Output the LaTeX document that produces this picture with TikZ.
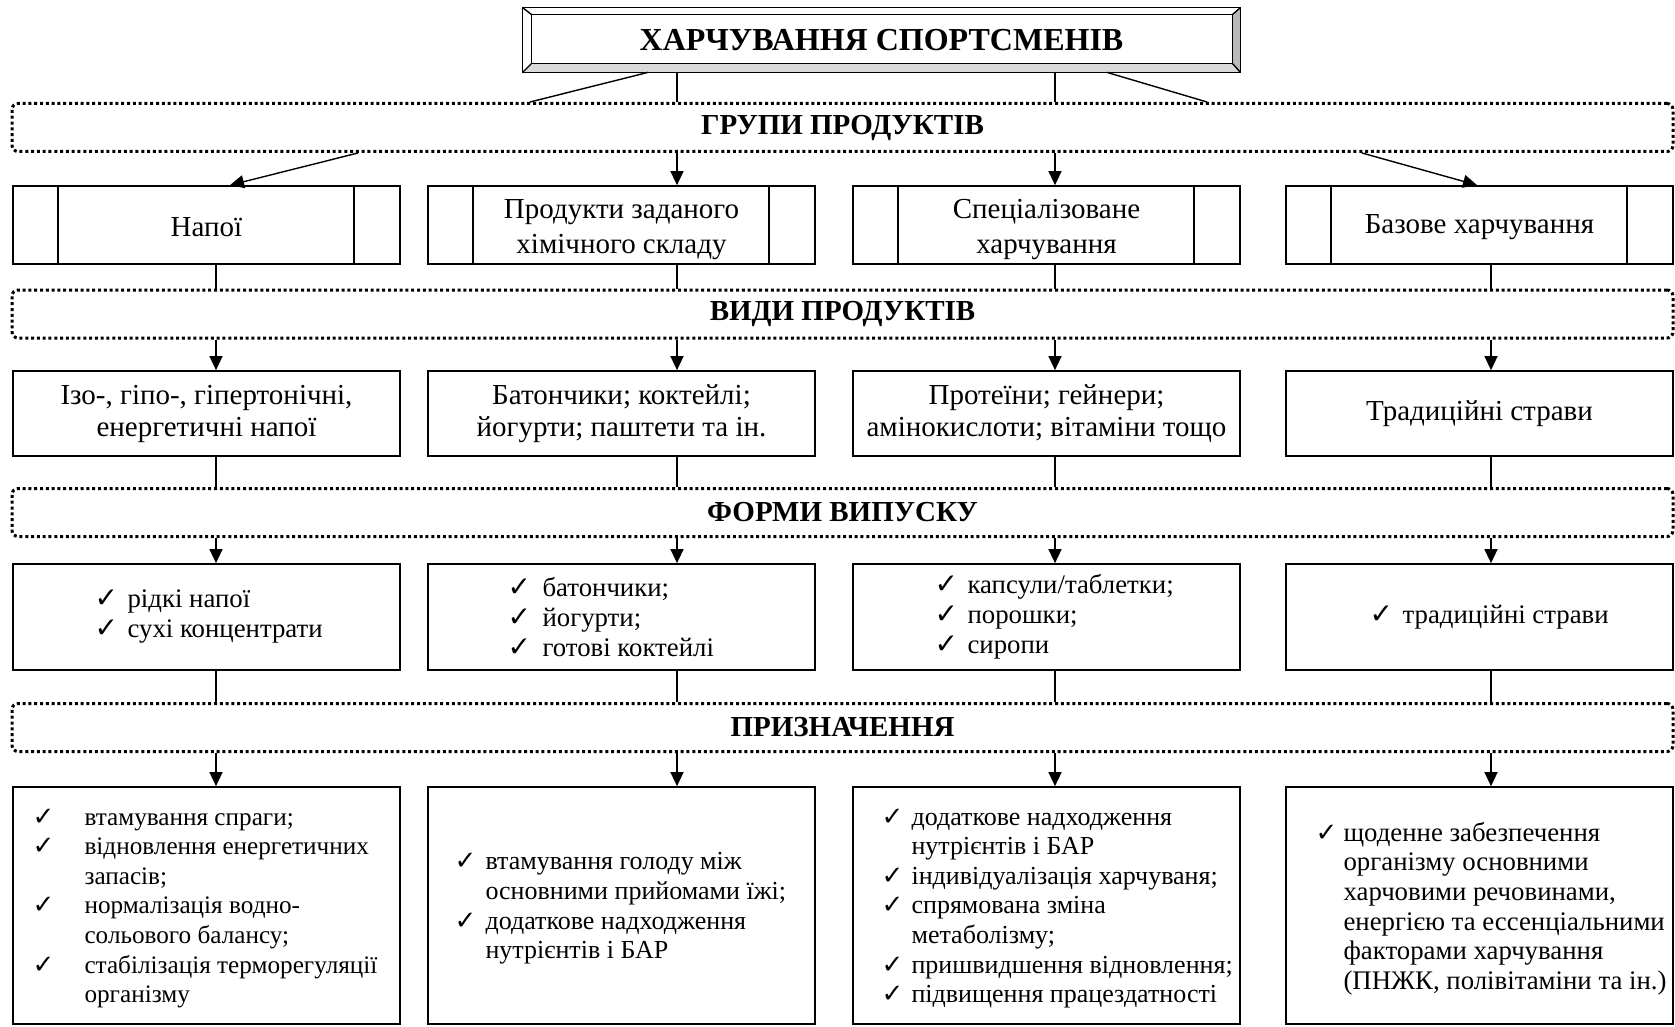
\documentclass[tikz,border=0pt]{standalone}
\usepackage{fontspec}
\setmainfont{Liberation Serif}
\newfontfamily\symf{DejaVu Sans}
\usetikzlibrary{arrows.meta}
\newcommand{\ckA}[1]{\makebox[#1][l]{\symf\fontsize{14}{14}\selectfont ✓}}
\newcommand{\ckB}[1]{\makebox[#1][l]{\symf\fontsize{13}{13}\selectfont ✓}}
\newcommand{\ind}[1]{\hspace*{#1}}
\begin{document}
\begin{tikzpicture}[x=0.5pt,y=-0.5pt,
  box/.style={draw, line width=0.85pt, minimum width=193.5pt, inner sep=0pt, align=center},
  fA/.style={font=\fontsize{14.5}{17.5}\selectfont, align=center},
  fA2/.style={font=\fontsize{14.5}{16}\selectfont, align=center},
  fB/.style={font=\fontsize{13.4}{15}\selectfont, align=left, inner sep=0pt, anchor=west},
  fC/.style={font=\fontsize{13}{14.8}\selectfont, align=left, inner sep=0pt, anchor=west},
  grp/.style={draw, line width=1.5pt, dash pattern=on 1.5pt off 1.4pt, rounded corners=3pt,
    minimum width=830.5pt, minimum height=24pt, inner sep=0pt, font=\fontsize{14.5}{17}\selectfont\bfseries},
  con/.style={line width=0.7pt},
  arr/.style={con, -{Triangle[length=7pt,width=6.5pt]}},
  bar/.style={line width=0.85pt}
]
\useasboundingbox (0,0) rectangle (1675,1027);

% title
\node[minimum width=358.5pt, minimum height=32pt, inner sep=0pt,
  font=\fontsize{16}{19}\selectfont\bfseries] (title) at (881.5,40) {ХАРЧУВАННЯ СПОРТСМЕНІВ};
\coordinate (inw) at ([shift={(9,7)}]title.north west);
\coordinate (ine) at ([shift={(-8,7)}]title.north east);
\coordinate (isw) at ([shift={(9,-9)}]title.south west);
\coordinate (ise) at ([shift={(-8,-9)}]title.south east);
\fill[gray!55] (title.north east) -- (title.south east) -- (ise) -- (ine) -- cycle;
\fill[gray!30] (title.south west) -- (title.south east) -- (ise) -- (isw) -- cycle;
\draw[line width=0.85pt] (title.north west) rectangle (title.south east);
\draw[line width=0.7pt] (inw) rectangle (ise);
\draw[line width=0.7pt] (title.north west) -- (inw) (title.north east) -- (ine)
  (title.south west) -- (isw) (title.south east) -- (ise);

% group boxes
\node[grp] (g1) at (842.5,127.5) {ГРУПИ ПРОДУКТІВ};
\node[grp] (g2) at (842.5,314) {ВИДИ ПРОДУКТІВ};
\node[grp] (g3) at (842.5,512.5) {ФОРМИ ВИПУСКУ};
\node[grp] (g4) at (842.5,727.5) {ПРИЗНАЧЕННЯ};

% row 1
\node[box, minimum height=39pt] (a1) at (206.5,225) {};
\node[box, minimum height=39pt] (a2) at (621.5,225) {};
\node[box, minimum height=39pt] (a3) at (1046.5,225) {};
\node[box, minimum height=39pt] (a4) at (1479.5,225) {};
\foreach \n in {a1,a2,a3,a4}{
  \draw[bar] ([xshift=23pt]\n.north west) -- ([xshift=23pt]\n.south west);
  \draw[bar] ([xshift=-23.5pt]\n.north east) -- ([xshift=-23.5pt]\n.south east);
}
\node[fA] (a1t) at ([yshift=-1pt]a1.center) {Напої};
\node[fA] (a2t) at ([yshift=-2.5pt]a2.center) {Продукти заданого\\хімічного складу};
\node[fA] (a3t) at ([yshift=-2.5pt]a3.center) {Спеціалізоване\\харчування};
\node[fA] (a4t) at ([yshift=-1pt]a4.center) {Базове харчування};

% row 2
\node[box, fA2, minimum height=42.5pt] (b1) at (206.5,413.5) {Ізо-, гіпо-, гіпертонічні,\\енергетичні напої};
\node[box, fA2, minimum height=42.5pt] (b2) at (621.5,413.5) {Батончики; коктейлі;\\йогурти; паштети та ін.};
\node[box, fA2, minimum height=42.5pt] (b3) at (1046.5,413.5) {Протеїни; гейнери;\\амінокислоти; вітаміни тощо};
\node[box, fA2, minimum height=42.5pt] (b4) at (1479.5,413.5) {Традиційні страви};

% row 3
\node[box, minimum height=53pt] (c1) at (206.5,617) {};
\node[box, minimum height=53pt] (c2) at (621.5,617) {};
\node[box, minimum height=53pt] (c3) at (1046.5,617) {};
\node[box, minimum height=53pt] (c4) at (1479.5,617) {};
\node[fB] (c1t) at ([xshift=41pt]c1.west) {\ckA{16.5pt}рідкі напої\\\ckA{16.5pt}сухі концентрати};
\node[fB] (c2t) at ([xshift=40pt]c2.west) {\ckA{17.5pt}батончики;\\\ckA{17.5pt}йогурти;\\\ckA{17.5pt}готові коктейлі};
\node[fB] (c3t) at ([xshift=41pt]c3.west) {\ckA{16.5pt}капсули/таблетки;\\\ckA{16.5pt}порошки;\\\ckA{16.5pt}сиропи};
\node[fB] (c4t) at ([xshift=42pt]c4.west) {\ckA{16.5pt}традиційні страви};

% row 4
\node[box, minimum height=118.5pt] (d1) at (206.5,905.5) {};
\node[box, minimum height=118.5pt] (d2) at (621.5,905.5) {};
\node[box, minimum height=118.5pt] (d3) at (1046.5,905.5) {};
\node[box, minimum height=118.5pt] (d4) at (1479.5,905.5) {};
\node[fC, font=\fontsize{12.6}{14.8}\selectfont] (d1t) at ([xshift=10pt, yshift=-1.5pt]d1.west) {%
\ckB{26pt}втамування спраги;\\
\ckB{26pt}відновлення енергетичних\\
\ind{26pt}запасів;\\
\ckB{26pt}нормалізація водно-\\
\ind{26pt}сольового балансу;\\
\ckB{26pt}стабілізація терморегуляції\\
\ind{26pt}організму};
\node[fC] (d2t) at ([xshift=13.5pt, yshift=-1.5pt]d2.west) {%
\ckB{15.5pt}втамування голоду між\\
\ind{15.5pt}основними прийомами їжі;\\
\ckB{15.5pt}додаткове надходження\\
\ind{15.5pt}нутрієнтів і БАР};
\node[fC] (d3t) at ([xshift=14.5pt, yshift=-1.5pt]d3.west) {%
\ckB{15pt}додаткове надходження\\
\ind{15pt}нутрієнтів і БАР\\
\ckB{15pt}індивідуалізація харчуваня;\\
\ckB{15pt}спрямована зміна\\
\ind{15pt}метаболізму;\\
\ckB{15pt}пришвидшення відновлення;\\
\ckB{15pt}підвищення працездатності};
\node[fC, font=\fontsize{13.4}{14.8}\selectfont] (d4t) at ([xshift=15pt, yshift=-1.5pt]d4.west) {%
\ckB{14pt}щоденне забезпечення\\
\ind{14pt}організму основними\\
\ind{14pt}харчовими речовинами,\\
\ind{14pt}енергією та ессенціальними\\
\ind{14pt}факторами харчування\\
\ind{14pt}(ПНЖК, полівітаміни та ін.)};

% connector x positions
\coordinate (k1) at (216,0);
\coordinate (k2) at (677,0);
\coordinate (k3) at (1055,0);
\coordinate (k4) at (1491,0);
\coordinate (tl) at (648,0);
\coordinate (tlb) at (530,0);
\coordinate (tr) at (1107,0);
\coordinate (trb) at (1207,0);
\coordinate (sl) at (358,0);
\coordinate (el) at (230,0);
\coordinate (sr) at (1362,0);
\coordinate (er) at (1477,0);

% title -> group 1
\draw[con] (tl |- title.south) -- (tlb |- g1.north);
\draw[con] (k2 |- title.south) -- (k2 |- g1.north);
\draw[con] (k3 |- title.south) -- (k3 |- g1.north);
\draw[con] (tr |- title.south) -- (trb |- g1.north);

% group 1 -> row 1
\draw[arr] (sl |- g1.south) -- (el |- a1.north);
\draw[arr] (k2 |- g1.south) -- (k2 |- a2.north);
\draw[arr] (k3 |- g1.south) -- (k3 |- a3.north);
\draw[arr] (sr |- g1.south) -- (er |- a4.north);

\foreach \i in {1,2,3,4}{
  \draw[con] (k\i |- a\i.south) -- (k\i |- g2.north);
  \draw[arr] (k\i |- g2.south) -- (k\i |- b\i.north);
  \draw[con] (k\i |- b\i.south) -- (k\i |- g3.north);
  \draw[arr] (k\i |- g3.south) -- (k\i |- c\i.north);
  \draw[con] (k\i |- c\i.south) -- (k\i |- g4.north);
  \draw[arr] (k\i |- g4.south) -- (k\i |- d\i.north);
}
\end{tikzpicture}
\end{document}
